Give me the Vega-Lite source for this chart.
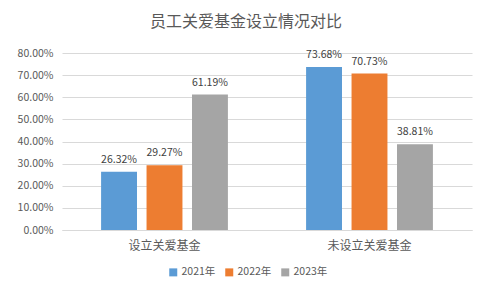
{
  "$schema": "https://vega.github.io/schema/vega-lite/v6.json",
  "autosize": {"type": "none"},
  "width": 410,
  "height": 177,
  "padding": {"left": 62, "top": 53, "right": 20, "bottom": 69},
  "background": "#ffffff",
  "title": {
    "text": "员工关爱基金设立情况对比",
    "font": "Noto Sans CJK SC",
    "fontSize": 16,
    "fontWeight": "normal",
    "color": "#595959",
    "anchor": "middle",
    "dx": -21,
    "offset": 18
  },
  "data": {
    "values": [
      {"category": "设立关爱基金", "year": "2021年", "value": 0.2632},
      {"category": "设立关爱基金", "year": "2022年", "value": 0.2927},
      {"category": "设立关爱基金", "year": "2023年", "value": 0.6119},
      {"category": "未设立关爱基金", "year": "2021年", "value": 0.7368},
      {"category": "未设立关爱基金", "year": "2022年", "value": 0.7073},
      {"category": "未设立关爱基金", "year": "2023年", "value": 0.3881}
    ]
  },
  "encoding": {
    "x": {
      "field": "category",
      "type": "nominal",
      "sort": ["设立关爱基金", "未设立关爱基金"],
      "scale": {"paddingInner": 0, "paddingOuter": 0},
      "axis": {
        "title": null,
        "labelAngle": 0,
        "ticks": false,
        "domain": true,
        "domainColor": "#d9d9d9",
        "labelFont": "Noto Sans CJK SC",
        "labelFontSize": 12,
        "labelColor": "#595959",
        "labelPadding": 10
      }
    },
    "xOffset": {
      "field": "year",
      "type": "nominal",
      "scale": {"paddingInner": 0.21, "paddingOuter": 0.86}
    },
    "y": {
      "field": "value",
      "type": "quantitative",
      "scale": {"domain": [0, 0.8], "nice": false},
      "axis": {
        "title": null,
        "format": ".2%",
        "values": [0, 0.1, 0.2, 0.3, 0.4, 0.5, 0.6, 0.7, 0.8],
        "labelOverlap": false,
        "ticks": false,
        "domain": false,
        "gridColor": "#d9d9d9",
        "labelFont": "Noto Sans CJK SC",
        "labelFontSize": 10.5,
        "labelColor": "#595959",
        "labelPadding": 9
      }
    }
  },
  "layer": [
    {
      "mark": {"type": "bar"},
      "encoding": {
        "color": {
          "field": "year",
          "type": "nominal",
          "scale": {"range": ["#5B9BD5", "#ED7D31", "#A5A5A5"]},
          "legend": {
            "title": null,
            "orient": "none",
            "direction": "horizontal",
            "legendX": 106,
            "legendY": 214,
            "symbolType": "square",
            "symbolSize": 64,
            "symbolStrokeWidth": 0,
            "labelFont": "Noto Sans CJK SC",
            "labelFontSize": 10.5,
            "labelColor": "#595959",
            "labelOffset": 3,
            "columnPadding": 8
          }
        }
      }
    },
    {
      "mark": {
        "type": "text",
        "baseline": "bottom",
        "dy": -7,
        "font": "Noto Sans CJK SC",
        "fontSize": 10.5,
        "color": "#404040"
      },
      "encoding": {
        "text": {"field": "value", "type": "quantitative", "format": ".2%"}
      }
    }
  ],
  "config": {
    "view": {"stroke": null}
  }
}
